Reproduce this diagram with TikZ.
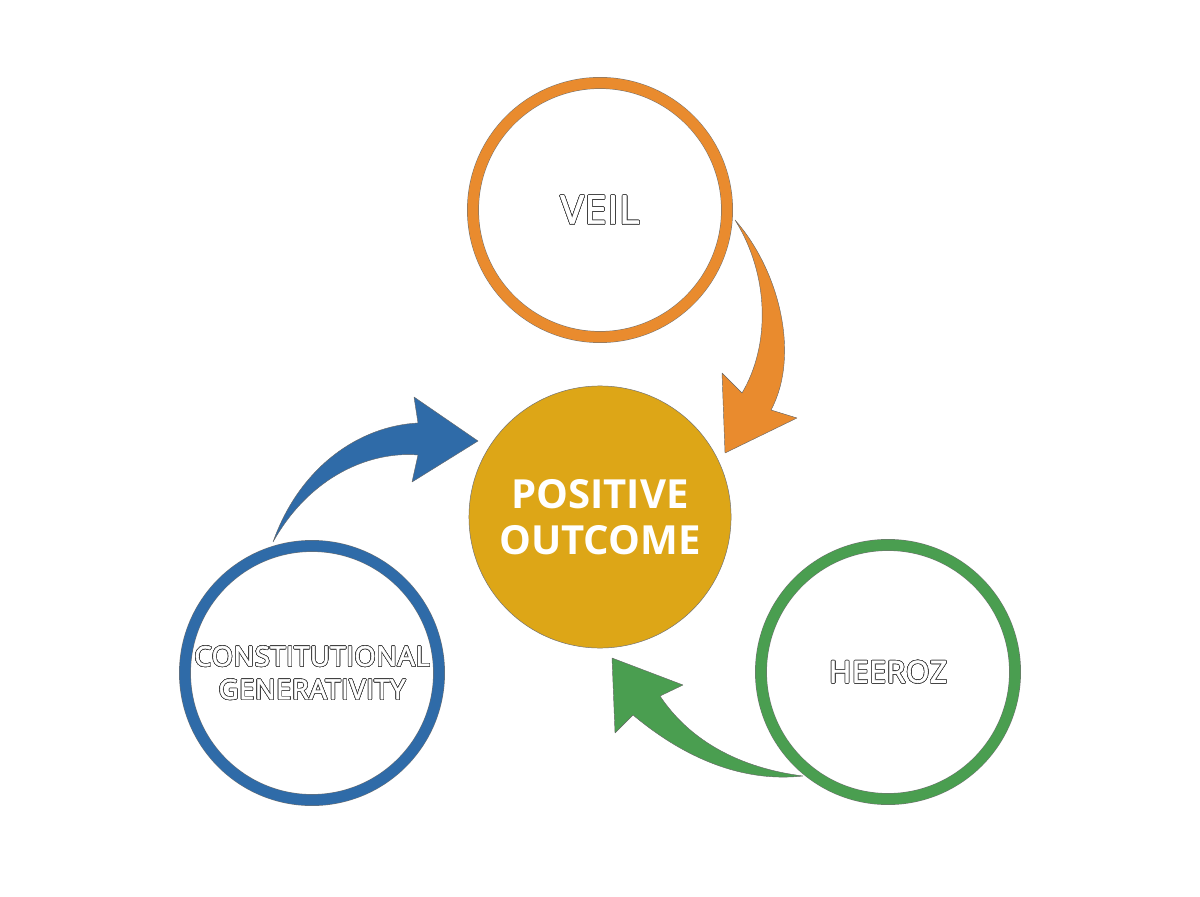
\documentclass[tikz,border=0pt]{standalone}
\usepackage{fontspec}
\setmainfont{Open Sans}
\newfontfamily\ringfont[FakeBold=2,LetterSpace=2]{Open Sans}
\usepackage{contour}
\contourlength{0.45pt}
\contournumber{24}
\definecolor{veilorange}{HTML}{E98B2E}
\definecolor{constblue}{HTML}{2F6BA8}
\definecolor{heerozgreen}{HTML}{4A9E50}
\definecolor{outcomegold}{HTML}{DDA617}
\tikzset{
  ring/.style={circle,draw=black!55,line width=0.35pt,double=#1,double distance=0.27cm,
    minimum size=6.35cm,inner sep=0pt,text=white,align=center},
  ringtext/.style 2 args={font=\ringfont\fontsize{#1}{#2}\selectfont},
  bigarrow/.style={fill=#1,draw=black!60,line width=0.3pt,line join=round}
}
\newcommand{\outl}[1]{\contour{black!75}{#1}}
\begin{document}
\begin{tikzpicture}[x=0.025cm,y=0.025cm,line join=round]
	\useasboundingbox (0,0) rectangle (1200,896);
	% circles
	\node[ring=veilorange,ringtext={28}{33}] (veil) at (600,686) {\outl{VEIL}};
	\node[ring=constblue,ringtext={19.5}{23.5}] (const) at (312,223) {\outl{CONSTITUTIONAL}\\\outl{GENERATIVITY}};
	\node[ring=heerozgreen,ringtext={21.5}{26}] (heeroz) at (888,224) {\outl{HEEROZ}};
	\node[circle,fill=outcomegold,draw=black!55,line width=0.35pt,minimum size=6.55cm,
		text=white,align=center,font=\bfseries\fontsize{28.5}{32.7}\selectfont] (outcome) at (600,379) {POSITIVE\\OUTCOME};
	% arrows
	\draw[bigarrow=veilorange] (735,676) .. controls (780,625) and (800,540) .. (771,486)
		-- (797,478) -- (725,443) -- (722,523) -- (742,503)
		.. controls (770,550) and (770,620) .. (735,676) -- cycle;
	\draw[bigarrow=constblue] (273,354) .. controls (300,430) and (360,470) .. (418,473)
		-- (414,499) -- (478,455) -- (412,414) -- (418,441)
		.. controls (370,445) and (310,420) .. (273,354) -- cycle;
	\draw[bigarrow=heerozgreen] (803,120) .. controls (730,112) and (670,150) .. (633,181)
		-- (615,163) -- (612,238) -- (683,211) -- (660,200)
		.. controls (690,155) and (740,128) .. (803,120) -- cycle;
\end{tikzpicture}
\end{document}
